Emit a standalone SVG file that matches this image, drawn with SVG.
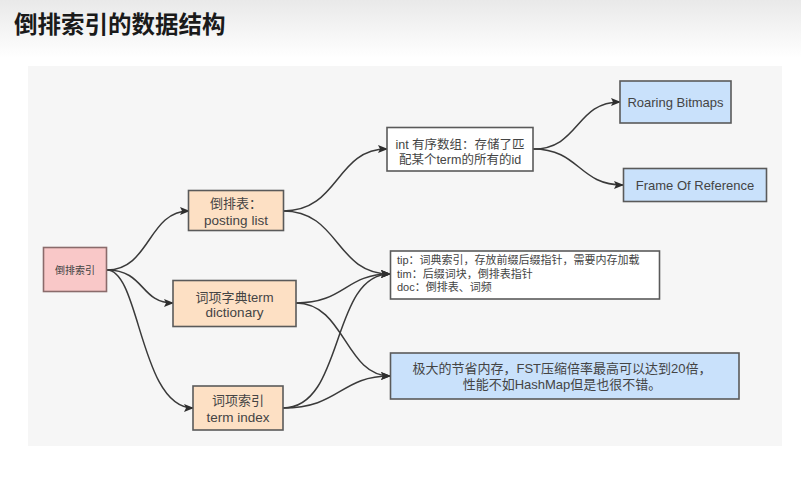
<svg xmlns="http://www.w3.org/2000/svg" width="801" height="482" viewBox="0 0 801 482">
<defs>
<linearGradient id="topg" x1="0" y1="0" x2="0" y2="1">
<stop offset="0" stop-color="#e9e9e9"/>
<stop offset="1" stop-color="#ffffff"/>
</linearGradient>
<marker id="arr" markerUnits="userSpaceOnUse" markerWidth="10" markerHeight="8" refX="9" refY="4" orient="auto">
<path d="M0,0 L10,4 L0,8 L2,4 Z" fill="#2e2e2e"/>
</marker>
<style>
.t{font-family:"Liberation Sans","Noto Sans CJK SC",sans-serif;fill:#444;}
.box{stroke:#5a5a5a;stroke-width:1.6;}
.pink{fill:#f9c8c8;stroke:#8a6b6b;}
.peach{fill:#fde0c4;}
.white{fill:#ffffff;}
.blue{fill:#c9e1fb;}
.c{fill:none;stroke:#3a3a3a;stroke-width:1.5;marker-end:url(#arr);}
</style>
</defs>
<rect x="0" y="0" width="801" height="482" fill="#ffffff"/>
<rect x="0" y="0" width="801" height="58" fill="url(#topg)"/>
<text x="14" y="33" font-family="'Noto Sans CJK SC','Liberation Sans',sans-serif" font-weight="bold" font-size="23.5" fill="#1a1a1a">倒排索引的数据结构</text>
<rect x="28" y="66" width="754" height="380" fill="#f6f6f6"/>

<g id="connectors">
<path class="c" d="M107,270 C150,270 148,211 189,211"/>
<path class="c" d="M107,270 C145,270 140,303 173,303"/>
<path class="c" d="M107,270 C140,270 140,408 193,408"/>
<path class="c" d="M283,211 C340,211 335,149 387,149"/>
<path class="c" d="M283,211 C340,211 335,274 390,274"/>
<path class="c" d="M296,303 C345,303 345,274 390,274"/>
<path class="c" d="M296,303 C345,303 345,376 390,376"/>
<path class="c" d="M283,408 C345,408 330,274 390,274"/>
<path class="c" d="M283,408 C340,408 340,376 390,376"/>
<path class="c" d="M533,149 C580,149 575,102 620,102"/>
<path class="c" d="M533,149 C580,149 578,185 623,185"/>
</g>

<g id="n-root">
<rect class="box pink" x="43.5" y="247.5" width="63" height="44"/>
<text class="t" x="75" y="273.5" font-size="10" text-anchor="middle" fill="#7a6060">倒排索引</text>
</g>
<g id="n-posting">
<rect class="box peach" x="188.5" y="190.5" width="95" height="40"/>
<text class="t" x="236" y="208" font-size="13" text-anchor="middle">倒排表：</text>
<text class="t" x="236" y="225" font-size="13.5" text-anchor="middle">posting list</text>
</g>
<g id="n-dict">
<rect class="box peach" x="173" y="280.5" width="123" height="46"/>
<text class="t" x="234.5" y="301.5" font-size="13" text-anchor="middle">词项字典term</text>
<text class="t" x="234.5" y="316.5" font-size="13.5" text-anchor="middle">dictionary</text>
</g>
<g id="n-tindex">
<rect class="box peach" x="193" y="386" width="90" height="44"/>
<text class="t" x="238" y="404.5" font-size="13" text-anchor="middle">词项索引</text>
<text class="t" x="238" y="421.5" font-size="13.5" text-anchor="middle">term index</text>
</g>
<g id="n-int">
<rect class="box white" x="387" y="127.5" width="146" height="43.5"/>
<text class="t" x="460" y="148.5" font-size="12.5" text-anchor="middle">int 有序数组：存储了匹</text>
<text class="t" x="460" y="164" font-size="12.5" text-anchor="middle">配某个term的所有的id</text>
</g>
<g id="n-roaring">
<rect class="box blue" x="620" y="81" width="111" height="42"/>
<text class="t" x="675.5" y="106.5" font-size="13" text-anchor="middle">Roaring Bitmaps</text>
</g>
<g id="n-frame">
<rect class="box blue" x="623.5" y="168.5" width="143" height="33"/>
<text class="t" x="695" y="189.5" font-size="13" text-anchor="middle">Frame Of Reference</text>
</g>
<g id="n-tip">
<rect class="box white" x="390.5" y="251" width="269" height="48"/>
<text class="t" x="397" y="264" font-size="11">tip：词典索引，存放前缀后缀指针，需要内存加载</text>
<text class="t" x="397" y="277.5" font-size="11">tim：后缀词块，倒排表指针</text>
<text class="t" x="397" y="291" font-size="11">doc：倒排表、词频</text>
</g>
<g id="n-fst">
<rect class="box blue" x="390.5" y="353" width="348.5" height="46"/>
<text class="t" x="562" y="373" font-size="13" text-anchor="middle">极大的节省内存，FST压缩倍率最高可以达到20倍，</text>
<text class="t" x="562" y="389" font-size="13" text-anchor="middle">性能不如HashMap但是也很不错。</text>
</g>
</svg>
